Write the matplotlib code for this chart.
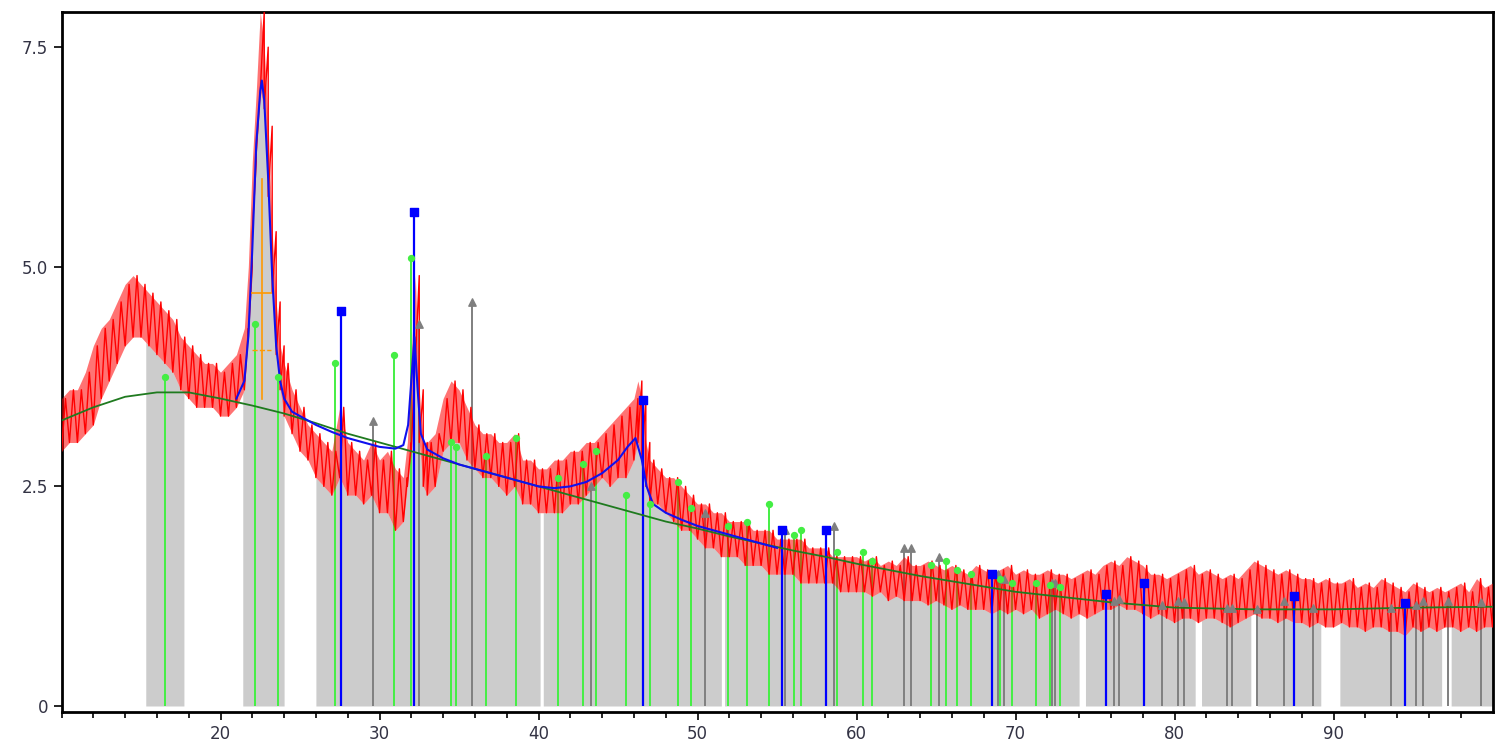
import matplotlib
matplotlib.use("Agg")
import matplotlib.pyplot as plt
import numpy as np

# ── measured pattern: local low / high envelope of the noisy signal ─────────
x_obs = [10, 10.5, 11, 11.5, 12, 12.5, 13, 13.5, 14, 14.5, 15, 15.5, 16, 16.5, 17, 17.5,
         18, 18.5, 19, 19.5, 20, 20.5, 21, 21.5, 21.75, 22, 22.25, 22.5, 22.75, 23, 23.25,
         23.5, 23.75, 24, 24.5, 25, 25.5, 26, 26.5, 27, 27.5, 28, 28.5, 29, 29.5, 30, 30.5,
         31, 31.5, 31.75, 32, 32.25, 32.5, 32.75, 33, 33.5, 34, 34.5, 35, 35.5, 36, 36.5,
         37, 37.5, 38, 38.5, 39, 39.5, 40, 40.5, 41, 41.5, 42, 42.5, 43, 43.5, 44, 44.5,
         45, 45.5, 46, 46.25, 46.5, 46.75, 47, 47.5, 48, 48.5, 49, 49.5, 50, 50.5, 51, 51.5,
         52, 52.5, 53, 53.5, 54, 54.5, 55, 55.5, 56, 56.5, 57, 57.5, 58, 58.5, 59, 59.5,
         60, 60.5, 61, 61.5, 62, 62.5, 63, 63.5, 64, 64.5, 65, 65.5, 66, 66.5, 67, 67.5,
         68, 68.5, 69, 69.5, 70, 70.5, 71, 71.5, 72, 72.5, 73, 73.5, 74, 74.5, 75, 75.5,
         76, 76.5, 77, 77.5, 78, 78.5, 79, 79.5, 80, 80.5, 81, 81.5, 82, 82.5, 83, 83.5,
         84, 84.5, 85, 85.5, 86, 86.5, 87, 87.5, 88, 88.5, 89, 89.5, 90, 90.5, 91, 91.5,
         92, 92.5, 93, 93.5, 94, 94.5, 95, 95.5, 96, 96.5, 97, 97.5, 98, 98.5, 99, 99.5, 100]
y_lo = [2.9, 3.0, 3.0, 3.1, 3.2, 3.5, 3.7, 3.9, 4.1, 4.2, 4.2, 4.1, 4.0, 3.9, 3.8, 3.6,
        3.5, 3.4, 3.4, 3.4, 3.3, 3.3, 3.4, 3.6, 4.2, 5.4, 6.3, 7.0, 6.8, 5.8, 4.7,
        4.0, 3.6, 3.3, 3.1, 2.9, 2.8, 2.6, 2.5, 2.4, 2.6, 2.4, 2.4, 2.3, 2.4, 2.2, 2.2,
        2.0, 2.1, 2.5, 2.9, 3.9, 3.0, 2.5, 2.4, 2.5, 2.9, 3.0, 3.0, 2.8, 2.7, 2.6,
        2.6, 2.5, 2.4, 2.5, 2.3, 2.3, 2.2, 2.2, 2.2, 2.2, 2.3, 2.3, 2.4, 2.5, 2.6, 2.5,
        2.6, 2.6, 2.8, 3.0, 2.8, 2.5, 2.3, 2.3, 2.2, 2.1, 2.0, 2.0, 1.9, 1.8, 1.8, 1.7,
        1.7, 1.7, 1.6, 1.6, 1.6, 1.5, 1.5, 1.5, 1.5, 1.4, 1.4, 1.4, 1.4, 1.4, 1.3, 1.3,
        1.3, 1.3, 1.25, 1.3, 1.2, 1.25, 1.2, 1.2, 1.2, 1.15, 1.2, 1.15, 1.1, 1.15, 1.1, 1.1,
        1.1, 1.05, 1.1, 1.05, 1.1, 1.05, 1.1, 1.0, 1.05, 1.1, 1.05, 1.0, 1.05, 1.0, 1.05, 1.1,
        1.1, 1.15, 1.1, 1.1, 1.05, 1.0, 1.05, 1.0, 0.95, 1.0, 1.0, 0.95, 1.0, 1.0, 0.95, 0.9,
        0.95, 1.0, 1.05, 1.0, 1.0, 0.95, 1.0, 0.95, 0.95, 0.9, 0.95, 0.9, 0.9, 0.95, 0.9, 0.9,
        0.85, 0.9, 0.9, 0.85, 0.85, 0.8, 0.9, 0.85, 0.9, 0.85, 0.9, 0.9, 0.85, 0.9, 0.85, 0.9, 0.9]
y_hi = [3.5, 3.6, 3.6, 3.8, 4.1, 4.3, 4.4, 4.6, 4.8, 4.9, 4.8, 4.7, 4.6, 4.5, 4.4, 4.2,
        4.1, 4.0, 3.9, 3.9, 3.8, 3.9, 4.0, 4.3, 5.0, 6.2, 7.0, 7.9, 7.5, 6.6, 5.4,
        4.6, 4.1, 3.9, 3.6, 3.4, 3.2, 3.1, 3.0, 2.9, 3.4, 3.0, 2.9, 2.8, 3.0, 2.8, 2.9,
        2.7, 2.6, 3.0, 4.0, 4.9, 3.6, 3.0, 3.0, 3.1, 3.5, 3.7, 3.6, 3.4, 3.2, 3.1,
        3.1, 3.0, 3.0, 3.1, 2.8, 2.8, 2.7, 2.7, 2.8, 2.8, 2.9, 2.9, 3.0, 3.0, 3.1, 3.2,
        3.3, 3.4, 3.5, 3.7, 3.5, 3.0, 2.8, 2.7, 2.6, 2.6, 2.5, 2.4, 2.3, 2.3, 2.2, 2.2,
        2.1, 2.1, 2.1, 2.0, 2.0, 2.0, 1.9, 1.9, 1.9, 1.9, 1.8, 1.8, 1.8, 1.7, 1.7, 1.7,
        1.7, 1.65, 1.7, 1.6, 1.65, 1.6, 1.7, 1.6, 1.6, 1.65, 1.6, 1.55, 1.6, 1.55, 1.5, 1.6,
        1.55, 1.5, 1.55, 1.6, 1.5, 1.55, 1.5, 1.5, 1.55, 1.5, 1.5, 1.45, 1.5, 1.55, 1.5, 1.6,
        1.65, 1.6, 1.7, 1.65, 1.6, 1.5, 1.5, 1.45, 1.5, 1.55, 1.6, 1.5, 1.55, 1.5, 1.45, 1.5,
        1.45, 1.55, 1.65, 1.6, 1.55, 1.5, 1.55, 1.5, 1.45, 1.45, 1.4, 1.45, 1.4, 1.4, 1.45, 1.35,
        1.4, 1.35, 1.45, 1.4, 1.35, 1.3, 1.4, 1.35, 1.3, 1.35, 1.3, 1.35, 1.4, 1.3, 1.45, 1.35, 1.4]

# ── background (green) and profile fit (blue) ────────────────────────────────
x_bg = [10, 12, 14, 16, 18, 20, 22, 24, 26, 28, 30, 32, 34, 36, 38, 40, 42, 44, 46, 48, 50,
        52, 54, 56, 58, 60, 62, 64, 66, 68, 70, 72, 74, 76, 78, 80, 85, 90, 95, 100]
y_bg = [3.25, 3.4, 3.52, 3.57, 3.57, 3.5, 3.42, 3.33, 3.22, 3.1, 3.0, 2.9, 2.8, 2.7, 2.6,
        2.5, 2.4, 2.3, 2.2, 2.1, 2.02, 1.93, 1.85, 1.77, 1.7, 1.62, 1.55, 1.48, 1.42, 1.36,
        1.3, 1.26, 1.22, 1.18, 1.15, 1.12, 1.1, 1.1, 1.12, 1.13]
x_fit = [21, 21.5, 21.75, 22, 22.25, 22.5, 22.6, 22.75, 23, 23.25, 23.5, 23.75, 24, 24.5,
         25, 26, 27, 28, 29, 30, 31, 31.5, 31.8, 32.0, 32.2, 32.4, 32.6, 33, 34, 35, 36,
         37, 38, 39, 40, 41, 42, 43, 44, 45, 45.6, 46.1, 46.5, 46.8, 47.2, 48, 49, 50,
         52, 54, 55]
y_fit = [3.5, 3.7, 4.2, 5.2, 6.4, 7.0, 7.12, 6.9, 6.0, 4.9, 4.1, 3.7, 3.5, 3.35,
         3.3, 3.2, 3.12, 3.05, 3.0, 2.95, 2.93, 2.97, 3.2, 3.7, 4.2, 3.6, 3.1, 2.92, 2.82,
         2.75, 2.7, 2.65, 2.6, 2.55, 2.5, 2.48, 2.5, 2.55, 2.65, 2.8, 2.95, 3.05, 2.8, 2.5,
         2.3, 2.2, 2.12, 2.05, 1.95, 1.85, 1.8]

gray_spans = [(15.3, 17.7), (21.4, 24.0), (26.0, 40.1), (40.3, 51.5), (51.7, 74.0),
              (74.4, 81.3), (81.7, 84.8), (85.2, 89.2), (90.4, 96.8), (97.4, 100)]

# ── reference stick patterns ─────────────────────────────────────────────────
blue_pos = [27.6, 32.2, 46.6, 55.3, 58.1, 68.5, 75.7, 78.1, 87.5, 94.5]
blue_h = [4.5, 5.62, 3.48, 2.0, 2.0, 1.5, 1.28, 1.4, 1.25, 1.17]
green_pos = [16.5, 22.2, 23.6, 27.2, 30.9, 32.0, 34.5, 34.8, 36.7, 38.6, 41.2, 42.8, 43.6,
             45.5, 47.0, 48.8, 49.6, 51.9, 53.1, 54.5, 56.1, 56.5, 58.8, 60.4, 61.0, 64.7,
             65.6, 66.3, 67.2, 69.0, 69.8, 71.3, 72.2, 72.8]
green_h = [3.75, 4.35, 3.75, 3.9, 4.0, 5.1, 3.0, 2.95, 2.85, 3.05, 2.6, 2.75, 2.9,
           2.4, 2.3, 2.55, 2.25, 2.05, 2.1, 2.3, 1.95, 2.0, 1.75, 1.75, 1.65, 1.6,
           1.65, 1.55, 1.5, 1.45, 1.4, 1.4, 1.38, 1.35]
gray_pos = [29.6, 32.5, 35.8, 43.3, 50.5, 55.5, 58.6, 63.0, 63.4, 65.2, 68.9, 69.3, 72.3,
            72.5, 76.2, 76.5, 79.2, 80.2, 80.6, 83.3, 83.6, 85.2, 86.9, 88.7, 93.6, 95.2,
            95.6, 97.2, 99.3]
gray_h = [3.25, 4.35, 4.6, 2.5, 2.2, 2.0, 2.05, 1.8, 1.8, 1.7, 1.5, 1.45, 1.4,
          1.4, 1.2, 1.22, 1.15, 1.2, 1.18, 1.12, 1.12, 1.1, 1.2, 1.12, 1.12, 1.15,
          1.2, 1.2, 1.18]

fig = plt.figure(figsize=(15, 7.52), dpi=100)
ax = fig.add_axes([0.041, 0.053, 0.954, 0.931])

# gray area up to the lower edge of the measured signal
for a, b in gray_spans:
    xs = [x for x in x_obs if a < x < b]
    xs = [a] + xs + [b]
    ax.fill_between(xs, 0, np.interp(xs, x_obs, y_lo), color="#cccccc", lw=0, zorder=1)

# sticks
ax.vlines(gray_pos, 0, gray_h, color="#7f7f7f", lw=1.4, zorder=2)
ax.scatter(gray_pos, gray_h, marker="^", s=28, color="#7f7f7f", zorder=6)
ax.vlines(green_pos, 0, green_h, color="#44ee44", lw=1.4, zorder=3)
ax.scatter(green_pos, green_h, marker="o", s=18, color="#44ee44", zorder=6)

# noisy data: band + zigzag strokes
ax.fill_between(x_obs, y_lo, y_hi, color="#ff0000", alpha=0.55, lw=0, zorder=4)
zx = np.ravel(np.column_stack([x_obs, np.array(x_obs) + 0.25]))
zy = np.ravel(np.column_stack([y_lo, y_hi]))
ax.plot(zx, zy, color="#ff0000", lw=1.0, zorder=4)

ax.vlines(blue_pos, 0, blue_h, color="#0000ff", lw=1.6, zorder=5)
ax.scatter(blue_pos, blue_h, marker="s", s=36, color="#0000ff", zorder=7)

ax.plot(x_bg, y_bg, color="#1f7a1f", lw=1.3, zorder=5)
ax.plot(x_fit, y_fit, color="#1010ee", lw=1.5, zorder=5)

# peak marker (orange)
ax.plot([22.6, 22.6], [3.5, 6.0], color="#ff9900", lw=1.2, zorder=6)
ax.plot([22.0, 23.2], [4.7, 4.7], color="#ff9900", lw=1.2, zorder=6)
ax.plot([22.0, 23.2], [4.05, 4.05], color="#ff9900", lw=1.0, ls="--", zorder=6)

ax.set_xlim(10, 100)
ax.set_ylim(-0.07, 7.9)
ax.set_xticks([20, 30, 40, 50, 60, 70, 80, 90])
ax.set_xticks(np.arange(10, 100, 2), minor=True)
ax.set_yticks([0, 2.5, 5.0, 7.5])
ax.set_yticklabels(["0", "2.5", "5.0", "7.5"])
ax.tick_params(axis="both", labelsize=12, labelcolor="#333344", length=6, width=1.2)
ax.tick_params(axis="x", which="minor", length=4, width=1.2)
for s in ax.spines.values():
    s.set_linewidth(2)

fig.savefig("out.png", dpi=100)
